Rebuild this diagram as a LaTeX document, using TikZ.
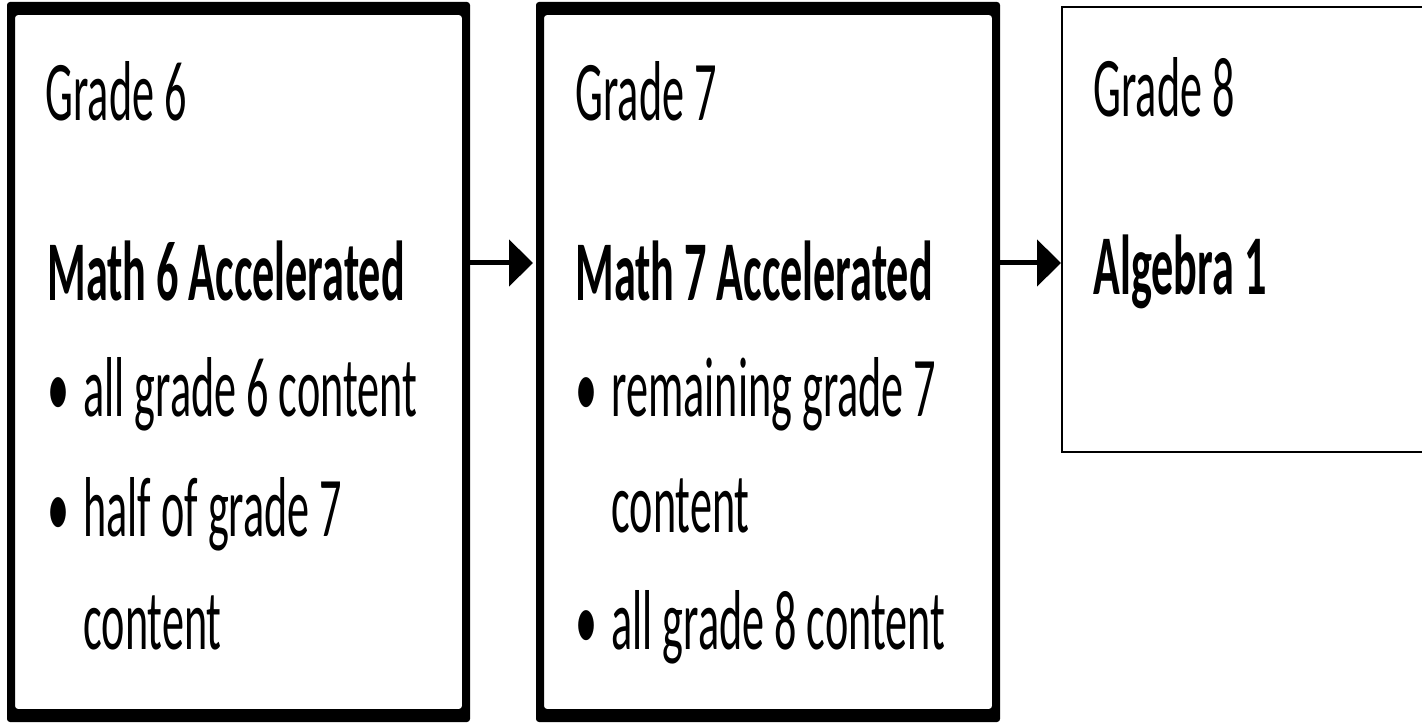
\documentclass[tikz,border=0pt]{standalone}
\usepackage{fontspec}
\setmainfont{Carlito}[FakeStretch=0.52]
\usetikzlibrary{arrows.meta,calc}

% Punto elenco
\newcommand{\punto}{\makebox[18pt][l]{•}}

\begin{document}
\begin{tikzpicture}[x=0.5pt,y=0.5pt,
  box/.style={inner sep=0pt, outer sep=0pt},
  txt/.style={anchor=base west, inner sep=0pt, font=\fontsize{42.5}{50}\selectfont},
  corso/.style={txt, font=\fontsize{42.5}{50}\selectfont\bfseries},
  freccia/.style={line width=2.5pt, -{Triangle[length=12pt,width=23pt]}}]

\useasboundingbox (0,0) rectangle (1422,722);
\clip (0,0) rectangle (1422,722);

% Riquadri
\node[box, minimum width=231.5pt, minimum height=360pt] (g6) at (238.5,360) {};
\node[box, minimum width=232pt, minimum height=360pt] (g7) at (768,360) {};
\node[draw, line width=1pt, inner sep=0pt, minimum width=189pt, minimum height=222.5pt] (g8) at (1251,492.5) {};

% Bordi spessi
\foreach \b in {g6,g7}
  \fill[even odd rule, rounded corners=1.5pt] (\b.south west) rectangle (\b.north east)
    ($(\b.south west)+(8,13)$) rectangle ($(\b.north east)+(-8,-13)$);

% Frecce
\coordinate (riga) at (0,459);
\draw[freccia, shorten >=1.5pt] (g6.east |- riga) -- (g7.west |- riga);
\draw[freccia] (g7.east |- riga) -- (g8.west |- riga);

% Grade 6
\node[txt] (g6anno) at (45,601) {Grade 6};
\node[corso] (g6corso) at (47,421) {Math 6 Accelerated};
\node[txt] (g6a) at (47,305) {\punto all grade 6 content};
\node[txt] (g6b) at (47,185) {\punto half of grade 7};
\node[txt] (g6c) at (83,72) {content};

% Grade 7
\node[txt] (g7anno) at (575,601) {Grade 7};
\node[corso] (g7corso) at (575,421) {Math 7 Accelerated};
\node[txt] (g7a) at (575,305) {\punto remaining grade 7};
\node[txt] (g7b) at (611,189) {content};
\node[txt] (g7c) at (575,72) {\punto all grade 8 content};

% Grade 8
\node[txt] (g8anno) at (1093,605) {Grade 8};
\node[corso] (g8corso) at (1093,427) {Algebra 1};

\end{tikzpicture}
\end{document}
